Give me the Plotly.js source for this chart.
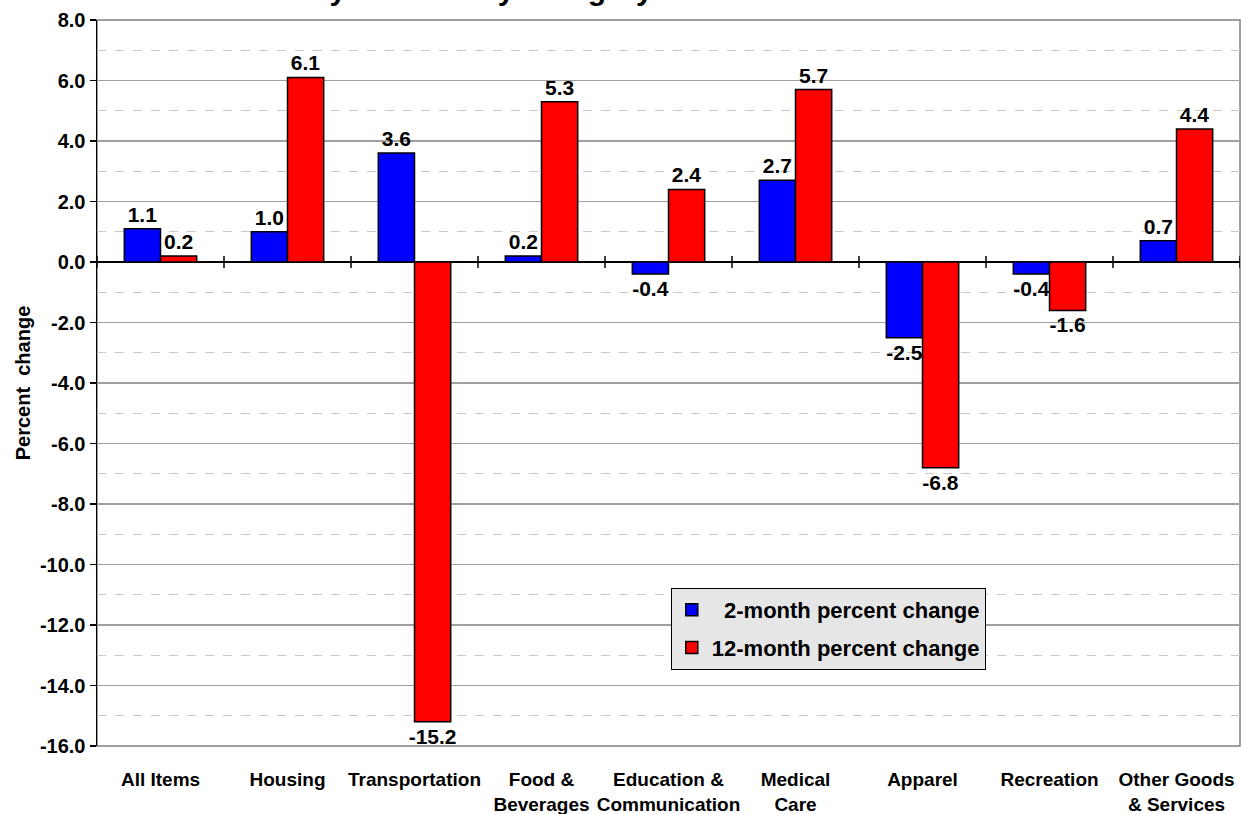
<!DOCTYPE html>
<html>
<head>
<meta charset="utf-8">
<script src="https://cdn.plot.ly/plotly-3.0.1.min.js"></script>
<style>html,body{margin:0;padding:0;background:#fff}#chart{width:1241px;height:814px}</style>
</head>
<body>
<div id="chart"></div>
<script>
var categories = ["All Items", "Housing", "Transportation", "Food &<br>Beverages", "Education &<br>Communication", "Medical<br>Care", "Apparel", "Recreation", "Other Goods<br>& Services"];
var twoMonth = [1.1, 1.0, 3.6, 0.2, -0.4, 2.7, -2.5, -0.4, 0.7];
var twelveMonth = [0.2, 6.1, -15.2, 5.3, 2.4, 5.7, -6.8, -1.6, 4.4];
var seriesNames = ["\u00a0\u00a02-month percent change", "12-month percent change"];
var yTickVals = [8, 6, 4, 2, 0, -2, -4, -6, -8, -10, -12, -14, -16];
var yTickText = ["8.0", "6.0", "4.0", "2.0", "0.0", "-2.0", "-4.0", "-6.0", "-8.0", "-10.0", "-12.0", "-14.0", "-16.0"];

var FONT = "Liberation Sans, Arial, sans-serif";
var idx = categories.map(function (c, i) { return i; });
function fmt(arr) { return arr.map(function (v) { return v.toFixed(1); }); }

var traces = [
  {
    type: "bar", x: idx, y: twoMonth, name: seriesNames[0], legendgroup: "a",
    marker: {color: "#0000ff", line: {color: "#000000", width: 1.5}},
    text: fmt(twoMonth), textposition: "outside", cliponaxis: false, constraintext: "none",
    textfont: {family: FONT, size: 21, color: "#000", weight: "bold"}, hoverinfo: "y"
  },
  {
    type: "bar", x: idx, y: twelveMonth, name: seriesNames[1], legendgroup: "b",
    marker: {color: "#ff0000", line: {color: "#000000", width: 1.5}},
    text: fmt(twelveMonth), textposition: "outside", cliponaxis: false, constraintext: "none",
    textfont: {family: FONT, size: 21, color: "#000", weight: "bold"}, hoverinfo: "y"
  }
];

// category boundary tick marks on the zero line
var shapes = [];
for (var i = 0; i <= categories.length; i++) {
  shapes.push({type: "line", xref: "x", yref: "y", x0: i - 0.5, x1: i - 0.5, y0: -0.2, y1: 0.2,
    line: {color: "#000", width: 1.5}});
}
shapes.push({type: "rect", xref: "paper", yref: "paper", x0: 0, x1: 1, y0: 0, y1: 1,
  line: {color: "#808080", width: 1.5}, layer: "below"});

var layout = {
  width: 1241, height: 814,
  margin: {l: 97, r: 1, t: 20, b: 68},
  paper_bgcolor: "#ffffff", plot_bgcolor: "#ffffff",
  font: {family: FONT, color: "#000"},
  title: {
    text: "Bi-Monthly Inflation by Category",
    font: {family: FONT, size: 30, weight: "bold", color: "#000"},
    x: 0.34, xanchor: "center", xref: "container",
    y: 0.9995, yanchor: "bottom", yref: "container"
  },
  barmode: "group", bargap: 0.43, bargroupgap: 0,
  showlegend: true,
  legend: {
    x: 0.502, y: 0.2176, xanchor: "left", yanchor: "top",
    bgcolor: "#e6e6e6", bordercolor: "#000", borderwidth: 1,
    font: {family: FONT, size: 22, weight: "bold", color: "#000"},
    traceorder: "grouped", tracegroupgap: 6
  },
  xaxis: {
    type: "linear", range: [-0.5, categories.length - 0.5],
    tickmode: "array", tickvals: idx, ticktext: categories,
    ticks: "", ticklabelstandoff: 20,
    tickfont: {family: FONT, size: 19, weight: "bold", color: "#000"},
    showgrid: false, zeroline: false, showline: false, fixedrange: true
  },
  yaxis: {
    range: [-16, 8],
    tickmode: "array", tickvals: yTickVals, ticktext: yTickText,
    ticks: "outside", ticklen: 6, tickcolor: "#000", tickwidth: 1.5,
    tickfont: {family: FONT, size: 20, weight: "bold", color: "#000"},
    showline: true, linecolor: "#000", linewidth: 1.5,
    showgrid: true, gridcolor: "#a0a0a0", gridwidth: 1.5,
    minor: {dtick: 1, tick0: 0, showgrid: true, gridcolor: "#c8c8c8", griddash: "dash", gridwidth: 1, ticks: ""},
    zeroline: true, zerolinecolor: "#000", zerolinewidth: 1.5,
    title: {text: "Percent  change", font: {family: FONT, size: 20, weight: "bold", color: "#000"}, standoff: 4},
    automargin: false, fixedrange: true
  },
  shapes: shapes
};

Plotly.newPlot("chart", traces, layout, {displayModeBar: false, staticPlot: true});
</script>
</body>
</html>
